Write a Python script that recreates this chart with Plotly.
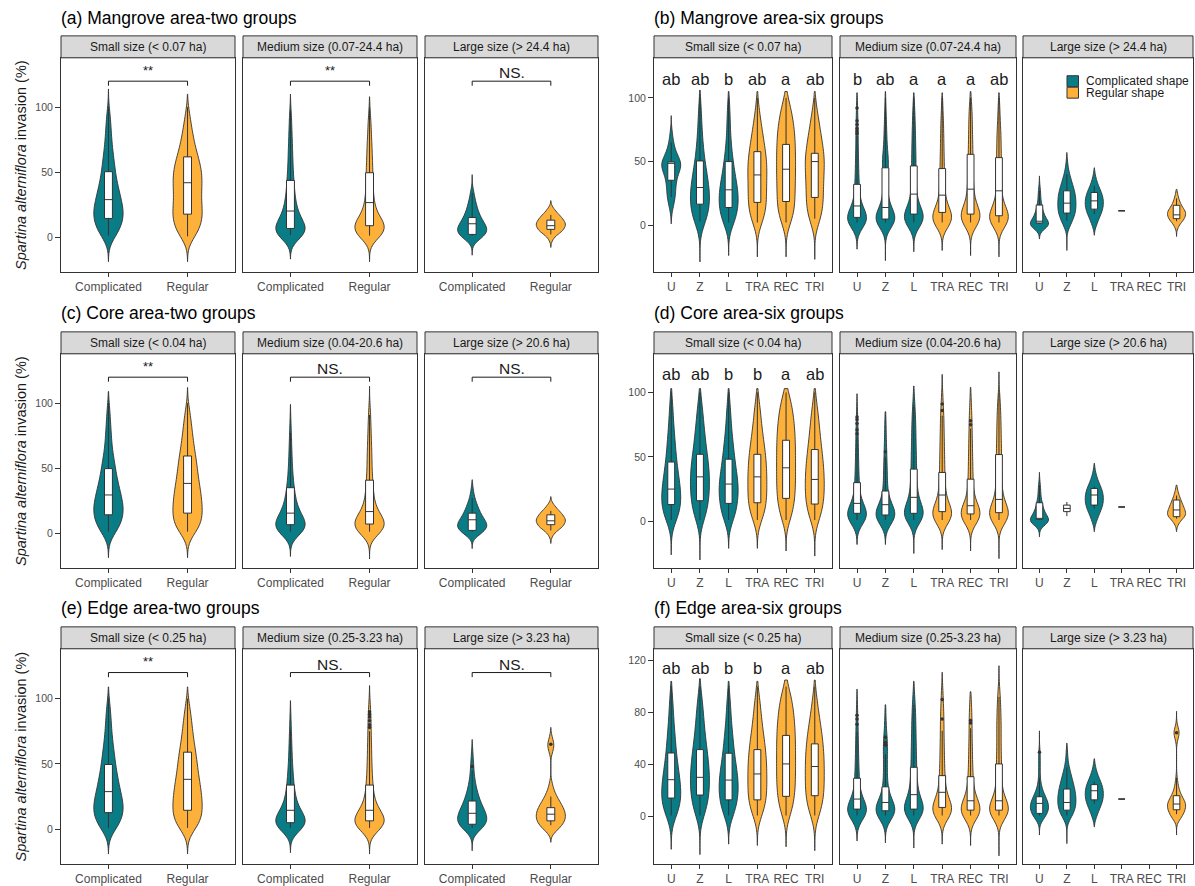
import numpy as np
import plotly.graph_objects as go

# ---------------- data ----------------
BIN_VALUES = [0, 5, 10, 15, 20, 25, 30, 35, 40, 45, 50, 55, 60, 65, 70, 75, 80, 85, 90, 95, 100]

TWO_GROUPS = ["Complicated", "Regular"]
SIX_GROUPS = ["U", "Z", "L", "TRA", "REC", "TRI"]

LABELS_MANGROVE = ["Small size (< 0.07 ha)", "Medium size (0.07-24.4 ha)", "Large size (> 24.4 ha)"]
LABELS_CORE = ["Small size (< 0.04 ha)", "Medium size (0.04-20.6 ha)", "Large size (> 20.6 ha)"]
LABELS_EDGE = ["Small size (< 0.25 ha)", "Medium size (0.25-3.23 ha)", "Large size (> 3.23 ha)"]

SIG_A = ["**", "**", "NS."]
SIG_C = ["**", "NS.", "NS."]
SIG_E = ["**", "NS.", "NS."]

LETTERS_B = [["ab", "ab", "b", "ab", "a", "ab"], ["b", "ab", "a", "a", "a", "ab"], None]
LETTERS_D = [["ab", "ab", "b", "b", "a", "ab"], None, None]
LETTERS_F = [["ab", "ab", "b", "b", "a", "ab"], None, None]

# frequency counts over BIN_VALUES per group; box = [low whisker, q1, median, q3, high whisker]
# ---- (a) Mangrove area - two groups
A_SMALL_COUNTS = [[10, 14, 18, 20, 20, 18, 16, 14, 12, 10, 9, 8, 7, 6, 5, 4, 4, 3, 3, 2, 1],
                  [11, 15, 18, 20, 20, 18, 18, 18, 19, 19, 19, 17, 15, 12, 10, 8, 7, 5, 4, 3, 1]]
A_SMALL_BW = [6.5, 6.5]
A_SMALL_SPAN = [[-19, 114], [-19, 110]]
A_SMALL_BOX = [[1, 14.3, 28.8, 50.3, 100], [0.5, 17.6, 41.8, 61.7, 100]]
A_SMALL_OUT = [[], []]

A_MED_COUNTS = [[32, 44, 36, 24, 18, 14, 12, 10, 9, 8, 7, 6, 6, 5, 5, 4, 4, 3, 3, 2, 1],
                [28, 40, 40, 24, 16, 12, 10, 9, 8, 8, 8, 7, 7, 6, 6, 5, 4, 4, 3, 2, 1]]
A_MED_BW = [5.5, 5.5]
A_MED_SPAN = [[-17, 110], [-19, 108]]
A_MED_BOX = [[1.5, 6.6, 20, 43.6, 98], [1, 8.7, 26.5, 49.5, 100]]
A_MED_OUT = [[], []]

A_LARGE_COUNTS = [[14, 20, 15, 10, 7, 5, 3, 2], [2, 8, 10, 7, 3]]
A_LARGE_BW = [4, 3]
A_LARGE_SPAN = [[-14, 48], [-8, 28]]
A_LARGE_BOX = [[1, 2, 10.2, 15, 34], [2, 5.9, 8.7, 13, 17]]
A_LARGE_OUT = [[], []]

# ---- (c) Core area - two groups
C_SMALL_COUNTS = [[10, 15, 18, 20, 20, 18, 16, 14, 12, 10, 9, 8, 6, 5, 4, 4, 3, 3, 2, 2, 1],
                  [12, 17, 20, 20, 20, 19, 18, 17, 15, 14, 13, 12, 11, 9, 8, 7, 6, 5, 4, 3, 1]]
C_SMALL_BW = [6.5, 6.5]
C_SMALL_SPAN = [[-19, 109], [-19, 112]]
C_SMALL_BOX = [[1, 14, 29.3, 49.6, 100], [1, 15.3, 38.2, 59.3, 100]]
C_SMALL_OUT = [[], []]

C_MED_COUNTS = [[32, 44, 36, 24, 18, 13, 11, 9, 7, 6, 5, 4, 4, 3, 3, 2, 2, 1, 1],
                [30, 44, 40, 24, 16, 12, 10, 9, 8, 7, 6, 6, 6, 5, 5, 4, 4, 3, 3, 2, 1]]
C_MED_BW = [5.5, 5.5]
C_MED_SPAN = [[-18, 99], [-20, 113]]
C_MED_BOX = [[1, 6.4, 15.3, 34.9, 77], [1, 6.9, 16.5, 40.7, 91]]
C_MED_OUT = [[], []]

C_LARGE_COUNTS = [[12, 20, 15, 10, 7, 4, 2, 1], [2, 8, 10, 7, 3]]
C_LARGE_BW = [3.5, 3]
C_LARGE_SPAN = [[-12, 41], [-8, 28]]
C_LARGE_BOX = [[1, 2, 10.2, 15.3, 27], [2, 6.4, 9.4, 14, 17]]
C_LARGE_OUT = [[], []]

# ---- (e) Edge area - two groups
E_SMALL_COUNTS = [[11, 15, 19, 20, 19, 17, 15, 13, 12, 10, 9, 8, 7, 6, 5, 4, 4, 3, 3, 2, 1],
                  [12, 17, 20, 20, 20, 19, 18, 17, 15, 14, 13, 12, 11, 9, 8, 7, 6, 5, 4, 3, 1]]
E_SMALL_BW = [6.5, 6.5]
E_SMALL_SPAN = [[-19, 109], [-19, 109]]
E_SMALL_BOX = [[1, 12.7, 28.8, 49.6, 100], [1, 14.5, 38.2, 59, 100]]
E_SMALL_OUT = [[], []]

E_MED_COUNTS = [[32, 44, 36, 22, 16, 12, 10, 8, 7, 6, 5, 4, 4, 3, 3, 2, 2, 1, 1],
                [30, 44, 38, 22, 15, 11, 9, 8, 7, 6, 6, 5, 5, 5, 4, 4, 4, 3, 3, 2, 1]]
E_MED_BW = [5.5, 5.5]
E_MED_SPAN = [[-18, 98.5], [-19, 110]]
E_MED_BOX = [[1, 5, 14.5, 33.8, 76], [1, 6.4, 14.5, 33.8, 75]]
E_MED_OUT = [[], [78, 80, 83, 86, 88, 90]]

E_LARGE_COUNTS = [[12, 20, 19, 15, 11, 8, 6, 4, 3, 2, 2, 1, 1],
                  [10, 18, 20, 18, 13, 8, 4, 2, 0, 0, 0, 0, 3, 5, 2]]
E_LARGE_BW = [4.5, 3.5]
E_LARGE_SPAN = [[-16.5, 68.7], [-10, 78]]
E_LARGE_BOX = [[1, 3.8, 12.2, 21.6, 45], [3, 6.4, 11.5, 16.5, 25]]
E_LARGE_OUT = [[48], [65]]

# ---- (b) Mangrove area - six groups (U, Z, L, TRA, REC, TRI)
B_SMALL_COUNTS = [[0, 0, 1, 3, 5, 6, 6, 7, 9, 14, 14, 8, 5, 3, 2, 1],
                  [10, 14, 17, 19, 20, 19, 18, 16, 14, 12, 10, 8, 7, 6, 5, 4, 4, 3, 3, 2, 1],
                  [11, 15, 18, 20, 20, 20, 18, 15, 13, 11, 9, 8, 6, 5, 4, 4, 3, 3, 3, 2, 1],
                  [9, 14, 17, 19, 19, 19, 19, 19, 20, 20, 20, 18, 16, 14, 12, 10, 8, 6, 4, 3, 1],
                  [9, 13, 16, 18, 18, 18, 18, 19, 19, 19, 19, 19, 19, 18, 18, 17, 15, 13, 11, 8, 4],
                  [8, 12, 15, 17, 17, 17, 17, 18, 18, 19, 20, 19, 17, 15, 13, 11, 9, 7, 5, 3, 1]]
B_SMALL_BW = [4.5, 8, 7.5, 7.5, 7.5, 7.5]
B_SMALL_SPAN = [[1, 86], [-29, 106], [-24, 105], [-25, 105], [-25, 105], [-27, 105]]
B_SMALL_BOX = [[22, 35.2, 48.5, 49.6, 65], [3, 16.4, 29.5, 50.4, 100], [2, 13.8, 27.7, 49.9, 100],
               [2, 17.8, 39.4, 57.7, 100], [2, 18.5, 43.9, 63.4, 100], [5, 21.7, 49.9, 56.4, 100]]
B_SMALL_OUT = [[], [], [], [], [], []]

B_MED_COUNTS = [[26, 34, 24, 12, 8, 7, 6, 5, 5, 4, 4, 4, 3, 3, 3, 3, 2, 2, 2, 1, 1],
                [26, 34, 24, 12, 8, 7, 6, 6, 6, 8, 9, 7, 5, 4, 4, 3, 3, 2, 2, 1, 1],
                [24, 34, 28, 15, 10, 8, 7, 7, 6, 6, 6, 6, 5, 5, 5, 4, 4, 3, 3, 2, 1],
                [26, 34, 28, 15, 10, 8, 7, 7, 6, 6, 6, 5, 5, 5, 4, 4, 4, 3, 2, 2, 1],
                [24, 32, 32, 18, 12, 10, 9, 8, 8, 7, 7, 7, 6, 6, 6, 5, 5, 5, 4, 3, 2],
                [26, 34, 30, 15, 10, 8, 8, 7, 7, 7, 7, 7, 6, 6, 6, 5, 4, 3, 3, 2, 1]]
B_MED_BW = [6, 6, 6, 6, 6, 6]
B_MED_SPAN = [[-19, 104], [-28, 105], [-21, 104], [-20, 104], [-24, 105], [-25, 104]]
B_MED_BOX = [[2, 6, 15, 32, 70], [2, 4.7, 13.8, 45, 100], [2, 8.6, 24.3, 46.5, 100],
             [2, 9.9, 23.5, 44.4, 100], [2, 8.6, 28.2, 55.6, 100], [2, 7.3, 26.9, 53, 100]]
B_MED_OUT = [[72, 74, 76, 79, 82, 92], [], [], [], [], []]

B_LARGE_COUNTS = [[20, 10, 6, 4, 2, 2, 1],
                  [6, 10, 14, 14, 14, 13, 10, 7, 4, 2, 1],
                  [3, 6, 10, 12, 12, 10, 6, 3, 1],
                  None, None,
                  [3, 10, 12, 6, 3, 1]]
B_LARGE_BW = [3.5, 4.5, 3.5, None, None, 3]
B_LARGE_SPAN = [[-11, 38.6], [-20, 57], [-8, 45], None, None, [-9, 28]]
B_LARGE_BOX = [[1, 1.6, 3, 15.7, 27], [3.4, 9.4, 17.2, 26.9, 40], [8.6, 12.5, 19, 25.6, 30.8],
               [11.2, 11.2, 11.2, 11.2, 11.2], None, [3, 5, 8, 15.5, 21]]
B_LARGE_OUT = [[], [], [], [], [], []]

# ---- (d) Core area - six groups
D_SMALL_COUNTS = [[11, 16, 19, 20, 20, 18, 17, 15, 13, 11, 10, 9, 8, 7, 6, 5, 4, 4, 3, 2, 1],
                  [9, 13, 16, 18, 19, 20, 20, 20, 19, 18, 16, 14, 12, 11, 10, 8, 7, 6, 5, 3, 1],
                  [10, 14, 16, 18, 19, 20, 19, 17, 15, 13, 12, 10, 9, 8, 6, 5, 5, 4, 3, 2, 1],
                  [9, 13, 16, 18, 18, 18, 18, 18, 18, 17, 16, 15, 13, 11, 10, 8, 7, 6, 5, 3, 1],
                  [9, 12, 15, 17, 18, 19, 19, 19, 19, 19, 19, 19, 19, 18, 18, 17, 15, 14, 12, 9, 5],
                  [9, 13, 16, 18, 19, 19, 19, 19, 18, 17, 16, 14, 13, 11, 10, 9, 8, 6, 5, 3, 1]]
D_SMALL_BW = [8, 8, 7.5, 7.5, 7.5, 8]
D_SMALL_SPAN = [[-26, 103], [-30, 103], [-21, 103], [-21, 103], [-23, 103], [-27, 103]]
D_SMALL_BOX = [[1, 13, 25, 46, 100], [1, 16, 34.5, 52, 100], [1, 13.9, 28.9, 48.2, 100],
               [1, 14.4, 34.5, 52, 100], [1, 17.8, 41.5, 62.9, 100], [1, 13.4, 32.5, 55.7, 100]]
D_SMALL_OUT = [[], [], [], [], [], []]

D_MED_COUNTS = [[26, 34, 24, 12, 8, 7, 6, 5, 5, 4, 4, 4, 3, 3, 3, 2, 2, 1, 1],
                [26, 34, 24, 12, 8, 6, 5, 5, 5, 4, 4, 3, 3, 2, 2, 2, 1, 1],
                [24, 34, 28, 16, 12, 10, 9, 8, 8, 7, 7, 7, 6, 6, 6, 5, 5, 4, 3, 2, 1],
                [26, 34, 28, 15, 11, 9, 8, 8, 7, 7, 7, 6, 6, 6, 5, 5, 5, 4, 3, 2, 2],
                [26, 34, 28, 14, 10, 8, 7, 7, 6, 6, 6, 5, 5, 5, 4, 4, 4, 3, 2, 2, 1],
                [26, 34, 28, 15, 11, 9, 8, 8, 8, 7, 7, 7, 7, 6, 6, 6, 5, 5, 4, 3, 2]]
D_MED_BW = [6, 6, 6, 6, 6, 6]
D_MED_SPAN = [[-18, 99], [-18, 85], [-25, 105], [-22, 114], [-23, 104], [-29, 116]]
D_MED_BOX = [[1, 6.2, 13.9, 30, 65], [1, 4.9, 12.9, 23.5, 50], [1, 6.2, 18.6, 40.5, 90],
             [1, 7.5, 20.4, 37.9, 82], [1, 5.7, 12.1, 32.7, 72], [1, 6.7, 17, 51.8, 100]]
D_MED_OUT = [[68, 71, 76, 79, 81], [54], [], [86, 91], [75, 78], []]

D_LARGE_COUNTS = [[20, 10, 6, 4, 2, 2, 1],
                  None,
                  [3, 6, 10, 12, 12, 10, 6, 3, 1],
                  None, None,
                  [4, 12, 9, 6, 3, 1]]
D_LARGE_BW = [3.5, None, 3.5, None, None, 3]
D_LARGE_SPAN = [[-12, 38], None, [-8, 45], None, None, [-8, 28]]
D_LARGE_BOX = [[1, 1.5, 2.3, 14.4, 28], [4, 7.5, 10, 12.6, 15], [10, 12.6, 20.4, 25.5, 27],
               [11.1, 11.1, 11.1, 11.1, 11.1], None, [2, 3.6, 8.8, 16.5, 20]]
D_LARGE_OUT = [[], [], [], [], [], []]

# ---- (f) Edge area - six groups
F_SMALL_COUNTS = [[11, 16, 19, 20, 20, 18, 17, 15, 13, 11, 10, 9, 8, 7, 6, 5, 4, 4, 3, 2, 1],
                  [9, 13, 16, 18, 19, 20, 20, 19, 18, 17, 15, 13, 12, 10, 9, 8, 7, 6, 5, 3, 1],
                  [10, 14, 17, 19, 20, 20, 19, 17, 15, 13, 11, 10, 9, 8, 6, 5, 5, 4, 3, 2, 1],
                  [9, 13, 16, 18, 18, 18, 18, 18, 18, 17, 16, 15, 13, 11, 10, 8, 7, 6, 5, 3, 1],
                  [9, 12, 15, 17, 18, 19, 19, 19, 19, 19, 19, 19, 19, 18, 18, 17, 15, 14, 12, 9, 5],
                  [9, 13, 16, 18, 19, 19, 19, 19, 19, 19, 18, 17, 16, 14, 12, 10, 8, 6, 5, 3, 1]]
F_SMALL_BW = [8, 8, 7.5, 7.5, 7.5, 8]
F_SMALL_SPAN = [[-25, 104], [-29, 106], [-21, 104], [-22, 104], [-23, 105], [-26, 105]]
F_SMALL_BOX = [[1, 14.4, 28.5, 49, 100], [1, 16.7, 30.3, 51.6, 100], [1, 13, 28.2, 48.8, 100],
               [1, 13, 32.9, 51.6, 100], [1, 15.7, 40.6, 62.5, 100], [1, 16.2, 38.6, 56, 100]]
F_SMALL_OUT = [[], [], [], [], [], []]

F_MED_COUNTS = [[26, 34, 24, 12, 8, 7, 6, 5, 5, 4, 4, 4, 3, 3, 3, 2, 2, 1, 1],
                [26, 34, 24, 12, 8, 6, 5, 5, 5, 5, 5, 6, 5, 3, 2, 2, 1, 1],
                [24, 34, 28, 16, 12, 10, 9, 8, 8, 7, 7, 7, 6, 6, 6, 5, 5, 4, 3, 2, 1],
                [26, 34, 28, 15, 11, 9, 8, 7, 7, 6, 6, 6, 5, 5, 5, 5, 4, 4, 3, 2, 2],
                [26, 34, 26, 14, 10, 8, 7, 6, 6, 5, 5, 5, 4, 4, 4, 4, 3, 3, 2, 1],
                [26, 34, 28, 14, 10, 8, 7, 7, 7, 7, 6, 6, 6, 6, 6, 6, 5, 5, 4, 3, 2]]
F_MED_BW = [6, 6, 6, 6, 6, 6]
F_MED_SPAN = [[-18.5, 98], [-20, 86], [-24, 104], [-21, 111], [-22, 96], [-30, 116]]
F_MED_BOX = [[1, 5.9, 13.6, 29.6, 65], [1, 4.6, 11, 23, 48], [1, 5.9, 17, 38, 86],
             [1, 7.2, 18.8, 31.6, 66], [1, 5.1, 12.3, 30.8, 68], [1, 5.1, 12.3, 40.6, 92]]
F_MED_OUT = [[71, 75, 78], [55, 57, 61], [], [75, 90], [72, 74], []]

F_LARGE_COUNTS = [[8, 12, 12, 8, 4, 2, 1, 1, 1, 1, 1],
                  [6, 10, 11, 11, 10, 8, 6, 4, 2, 1, 1],
                  [3, 6, 10, 12, 12, 10, 6, 3, 1],
                  None, None,
                  [8, 12, 14, 8, 4, 2, 1, 0, 0, 0, 0, 0, 2, 5, 1]]
F_LARGE_BW = [4, 4.5, 3.5, None, None, 3.5]
F_LARGE_SPAN = [[-14, 66], [-20.6, 56.5], [-7.7, 44.5], None, None, [-14, 81]]
F_LARGE_BOX = [[1, 2.6, 10.3, 15.4, 30], [1, 5.1, 11, 21.3, 38], [10, 13, 20, 24.7, 27],
               [13.6, 13.6, 13.6, 13.6, 13.6], None, [2, 5.4, 9.8, 16.2, 30]]
F_LARGE_OUT = [[49.6], [], [], [], [], [64.5]]

# ---------------- styling / layout ----------------
TEAL = "#0A7C86"
ORANGE = "#FDB03A"
EDGE = "#333333"
FONT = "Liberation Sans, Arial, sans-serif"
W, H = 1195, 886

LEFT_X = [(61, 235), (243, 417), (425, 598)]
RIGHT_X = [(654, 832), (840, 1016), (1023, 1193)]
ROW_Y = [(58, 273), (355, 570), (651, 867)]
TITLE_Y = [18, 314, 610]
STRIP_H = 22


def px_x(v):
    return v / W


def px_y(v):
    return 1 - v / H


PANELS = [
    dict(tag="(a) Mangrove area-two groups", side=0, row=0, groups=TWO_GROUPS, labels=LABELS_MANGROVE,
         yrange=[-27, 138], ticks=[0, 50, 100], sig=SIG_A, letters=None,
         facets=[(A_SMALL_COUNTS, A_SMALL_BW, A_SMALL_SPAN, A_SMALL_BOX, A_SMALL_OUT),
                 (A_MED_COUNTS, A_MED_BW, A_MED_SPAN, A_MED_BOX, A_MED_OUT),
                 (A_LARGE_COUNTS, A_LARGE_BW, A_LARGE_SPAN, A_LARGE_BOX, A_LARGE_OUT)]),
    dict(tag="(b) Mangrove area-six groups", side=1, row=0, groups=SIX_GROUPS, labels=LABELS_MANGROVE,
         yrange=[-37, 131.5], ticks=[0, 50, 100], sig=None, letters=LETTERS_B,
         facets=[(B_SMALL_COUNTS, B_SMALL_BW, B_SMALL_SPAN, B_SMALL_BOX, B_SMALL_OUT),
                 (B_MED_COUNTS, B_MED_BW, B_MED_SPAN, B_MED_BOX, B_MED_OUT),
                 (B_LARGE_COUNTS, B_LARGE_BW, B_LARGE_SPAN, B_LARGE_BOX, B_LARGE_OUT)]),
    dict(tag="(c) Core area-two groups", side=0, row=1, groups=TWO_GROUPS, labels=LABELS_CORE,
         yrange=[-27, 138], ticks=[0, 50, 100], sig=SIG_C, letters=None,
         facets=[(C_SMALL_COUNTS, C_SMALL_BW, C_SMALL_SPAN, C_SMALL_BOX, C_SMALL_OUT),
                 (C_MED_COUNTS, C_MED_BW, C_MED_SPAN, C_MED_BOX, C_MED_OUT),
                 (C_LARGE_COUNTS, C_LARGE_BW, C_LARGE_SPAN, C_LARGE_BOX, C_LARGE_OUT)]),
    dict(tag="(d) Core area-six groups", side=1, row=1, groups=SIX_GROUPS, labels=LABELS_CORE,
         yrange=[-36.3, 130], ticks=[0, 50, 100], sig=None, letters=LETTERS_D,
         facets=[(D_SMALL_COUNTS, D_SMALL_BW, D_SMALL_SPAN, D_SMALL_BOX, D_SMALL_OUT),
                 (D_MED_COUNTS, D_MED_BW, D_MED_SPAN, D_MED_BOX, D_MED_OUT),
                 (D_LARGE_COUNTS, D_LARGE_BW, D_LARGE_SPAN, D_LARGE_BOX, D_LARGE_OUT)]),
    dict(tag="(e) Edge area-two groups", side=0, row=2, groups=TWO_GROUPS, labels=LABELS_EDGE,
         yrange=[-26.7, 138.2], ticks=[0, 50, 100], sig=SIG_E, letters=None,
         facets=[(E_SMALL_COUNTS, E_SMALL_BW, E_SMALL_SPAN, E_SMALL_BOX, E_SMALL_OUT),
                 (E_MED_COUNTS, E_MED_BW, E_MED_SPAN, E_MED_BOX, E_MED_OUT),
                 (E_LARGE_COUNTS, E_LARGE_BW, E_LARGE_SPAN, E_LARGE_BOX, E_LARGE_OUT)]),
    dict(tag="(f) Edge area-six groups", side=1, row=2, groups=SIX_GROUPS, labels=LABELS_EDGE,
         yrange=[-36.3, 129], ticks=[0, 40, 80, 120], sig=None, letters=LETTERS_F,
         facets=[(F_SMALL_COUNTS, F_SMALL_BW, F_SMALL_SPAN, F_SMALL_BOX, F_SMALL_OUT),
                 (F_MED_COUNTS, F_MED_BW, F_MED_SPAN, F_MED_BOX, F_MED_OUT),
                 (F_LARGE_COUNTS, F_LARGE_BW, F_LARGE_SPAN, F_LARGE_BOX, F_LARGE_OUT)]),
]

fig = go.Figure()
layout = dict(
    width=W, height=H, margin=dict(l=0, r=0, t=0, b=0),
    paper_bgcolor="white", plot_bgcolor="white",
    showlegend=False, violinmode="overlay", boxmode="overlay",
    font=dict(family=FONT, color="#1A1A1A"),
)
shapes = []
annotations = []

axis_n = 0
for panel in PANELS:
    xs = LEFT_X if panel["side"] == 0 else RIGHT_X
    y_top, y_bot = ROW_Y[panel["row"]]
    groups = panel["groups"]
    two = len(groups) == 2
    vwidth = 0.37 if two else 0.66
    bwidth = 0.1 if two else 0.24
    colors = [TEAL, ORANGE] if two else [TEAL] * 3 + [ORANGE] * 3

    # panel title
    annotations.append(dict(text=panel["tag"], xref="paper", yref="paper",
                            x=px_x(xs[0][0] - 2), y=px_y(TITLE_Y[panel["row"]]),
                            xanchor="left", yanchor="middle",
                            showarrow=False, font=dict(size=17.5, color="black", family=FONT)))
    if panel["side"] == 0:
        annotations.append(dict(text="<i>Spartina alterniflora</i> invasion (%)", xref="paper", yref="paper",
                                x=px_x(21), y=px_y((y_top + y_bot) / 2), textangle=-90,
                                xanchor="center", yanchor="middle", showarrow=False,
                                font=dict(size=14.5, color="#1A1A1A", family=FONT)))

    for fi, (counts, bws, spans, boxes, outs) in enumerate(panel["facets"]):
        axis_n += 1
        xa, ya = f"x{axis_n}", f"y{axis_n}"
        x0, x1 = xs[fi]
        layout[f"xaxis{axis_n}"] = dict(
            domain=[px_x(x0), px_x(x1)], anchor=ya, type="category",
            categoryorder="array", categoryarray=groups,
            range=[-0.6, len(groups) - 0.4], showline=True, mirror=True,
            linecolor=EDGE, linewidth=1, ticks="outside", ticklen=4, tickcolor=EDGE,
            showgrid=False, zeroline=False, fixedrange=True,
            tickfont=dict(size=12, color="#4D4D4D", family=FONT))
        layout[f"yaxis{axis_n}"] = dict(
            domain=[px_y(y_bot), px_y(y_top)], anchor=xa, range=panel["yrange"],
            tickvals=panel["ticks"], showticklabels=(fi == 0),
            ticks="outside" if fi == 0 else "", ticklen=5, tickcolor=EDGE,
            showline=True, mirror=True, linecolor=EDGE, linewidth=1,
            showgrid=False, zeroline=False, fixedrange=True,
            tickfont=dict(size=10.5, color="#4D4D4D", family=FONT))

        # strip
        shapes.append(dict(type="rect", xref="paper", yref="paper",
                           x0=px_x(x0), x1=px_x(x1), y0=px_y(y_top), y1=px_y(y_top - STRIP_H),
                           fillcolor="#D9D9D9", line=dict(color=EDGE, width=1), layer="above"))
        annotations.append(dict(text=panel["labels"][fi], xref="paper", yref="paper",
                                x=px_x((x0 + x1) / 2), y=px_y(y_top - STRIP_H / 2),
                                xanchor="center", yanchor="middle", showarrow=False,
                                font=dict(size=12, color="#1A1A1A", family=FONT)))

        # violins
        for gi, g in enumerate(groups):
            c = counts[gi]
            if c is None:
                continue
            sample = np.repeat(np.array(BIN_VALUES[:len(c)], dtype=float), c)
            fig.add_trace(go.Violin(
                x=[g] * len(sample), y=sample, xaxis=xa, yaxis=ya,
                fillcolor=colors[gi], line=dict(color=EDGE, width=0.9), opacity=1,
                width=vwidth, bandwidth=bws[gi], spanmode="manual", span=spans[gi],
                scalemode="width", points=False, box_visible=False, meanline_visible=False,
                showlegend=False, hoverinfo="skip"))
        # boxes
        for gi, g in enumerate(groups):
            b = boxes[gi]
            if b is None:
                continue
            fig.add_trace(go.Box(
                x=[g], lowerfence=[b[0]], q1=[b[1]], median=[b[2]], q3=[b[3]], upperfence=[b[4]],
                xaxis=xa, yaxis=ya, width=bwidth, fillcolor="white",
                line=dict(color=EDGE, width=1), whiskerwidth=0, boxpoints=False,
                showlegend=False, hoverinfo="skip"))
        # outliers
        for gi, g in enumerate(groups):
            o = outs[gi]
            if o:
                fig.add_trace(go.Scatter(
                    x=[g] * len(o), y=o, xaxis=xa, yaxis=ya, mode="markers",
                    marker=dict(size=3.5, color=EDGE), showlegend=False, hoverinfo="skip"))

        # significance brackets (two-group panels)
        if panel["sig"] is not None:
            fig.add_trace(go.Scatter(
                x=[groups[0], groups[0], groups[1], groups[1]], y=[116.5, 120, 120, 116.5],
                xaxis=xa, yaxis=ya, mode="lines", line=dict(color="#1A1A1A", width=1),
                showlegend=False, hoverinfo="skip"))
            s = panel["sig"][fi]
            annotations.append(dict(text=s, xref=xa, yref=ya, x=0.5,
                                    y=128.5 if s == "**" else 126.5,
                                    xanchor="center", yanchor="middle", showarrow=False,
                                    font=dict(size=13 if s == "**" else 15.5, color="#1A1A1A", family=FONT)))
        # letters (six-group panels)
        if panel["letters"] is not None and panel["letters"][fi] is not None:
            for gi, g in enumerate(groups):
                annotations.append(dict(text=panel["letters"][fi][gi], xref=xa, yref=ya,
                                        x=gi, y=114.5, xanchor="center", yanchor="middle",
                                        showarrow=False,
                                        font=dict(size=16.5, color="#1A1A1A", family=FONT)))

# legend (inside panel b, large facet)
LEGEND_NAMES = ["Complicated shape", "Regular shape"]
for i, (name, col) in enumerate(zip(LEGEND_NAMES, [TEAL, ORANGE])):
    ytop = 76 + i * 11.5
    shapes.append(dict(type="rect", xref="paper", yref="paper",
                       x0=px_x(1067), x1=px_x(1078.5), y0=px_y(ytop + 11), y1=px_y(ytop),
                       fillcolor=col, line=dict(color=EDGE, width=1)))
    annotations.append(dict(text=name, xref="paper", yref="paper", x=px_x(1084), y=px_y(ytop + 5.5),
                            xanchor="left", yanchor="middle", showarrow=False,
                            font=dict(size=12, color="#1A1A1A", family=FONT)))

layout["shapes"] = shapes
layout["annotations"] = annotations
fig.update_layout(**layout)
fig.write_html("out.html", config={"displayModeBar": False},
               post_script="document.body.style.margin='0';document.body.style.overflow='hidden';")
